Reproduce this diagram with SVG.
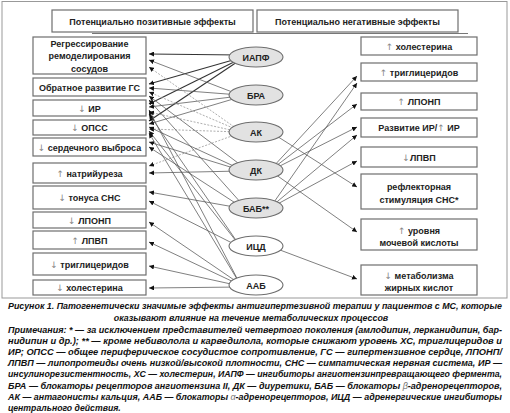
<svg xmlns="http://www.w3.org/2000/svg" width="510" height="413" viewBox="0 0 510 413">
<style>
.bx{fill:#fff;stroke:#6e6e6e;stroke-width:1.2}
.t{font-family:"Liberation Sans",Arial,sans-serif;font-weight:bold;font-size:9px;fill:#222;text-anchor:middle}
.ar{font-family:"DejaVu Sans",sans-serif;font-weight:normal;fill:#888}
.el{stroke:#6e6e6e;stroke-width:1.1}
.g{fill:#e2e2e2}
.w{fill:#fff}
.s{fill:none;stroke:#555;stroke-width:0.75}
.d{fill:none;stroke:#333;stroke-width:1.1}
.o{fill:none;stroke:#999;stroke-width:0.8;stroke-dasharray:2,1.5}
.cap{font-family:"Liberation Sans",Arial,sans-serif;font-weight:bold;font-style:italic;font-size:8.9px;fill:#111}
.nt{font-family:"Liberation Sans",Arial,sans-serif;font-weight:bold;font-style:italic;font-size:8.7px;fill:#111}
</style>
<defs>
<marker id="ah" markerUnits="userSpaceOnUse" markerWidth="6" markerHeight="5" refX="5" refY="2.5" orient="auto">
<path d="M0,0 L5,2.5 L0,5 z" fill="#111"/>
</marker>
</defs>
<rect x="2" y="1.5" width="505" height="296.5" fill="#fff" stroke="#999" stroke-width="1"/>
<g id="hdr-pos"><rect class="bx" x="52" y="10" width="201" height="22"/><text class="t" x="152.5" y="24.5" font-size="9.5">Потенциально позитивные эффекты</text></g>
<g id="hdr-neg"><rect class="bx" x="257" y="10" width="201" height="22"/><text class="t" x="357.5" y="24.5" font-size="9.5">Потенциально негативные эффекты</text></g>
<line x1="92" y1="33.5" x2="468" y2="33.5" stroke="#777" stroke-width="1"/>
<g id="connectors">
<line class="d" x1="240" y1="55" x2="149" y2="54" marker-end="url(#ah)"/>
<line class="d" x1="240" y1="58" x2="149" y2="84" marker-end="url(#ah)"/>
<line class="d" x1="240" y1="59" x2="149" y2="104" marker-end="url(#ah)"/>
<line class="d" x1="240" y1="60" x2="149" y2="121" marker-end="url(#ah)"/>
<line class="s" x1="240" y1="95" x2="149" y2="60" marker-end="url(#ah)"/>
<line class="s" x1="240" y1="95" x2="149" y2="88" marker-end="url(#ah)"/>
<line class="s" x1="240" y1="96" x2="149" y2="107" marker-end="url(#ah)"/>
<line class="s" x1="240" y1="97" x2="149" y2="124" marker-end="url(#ah)"/>
<line class="o" x1="240" y1="131" x2="149" y2="67" marker-end="url(#ah)"/>
<line class="o" x1="240" y1="131" x2="149" y2="92" marker-end="url(#ah)"/>
<line class="o" x1="240" y1="132" x2="149" y2="112" marker-end="url(#ah)"/>
<line class="o" x1="240" y1="132" x2="149" y2="129" marker-end="url(#ah)"/>
<line class="o" x1="240" y1="133" x2="149" y2="166" marker-end="url(#ah)"/>
<line class="s" x1="242" y1="166" x2="149" y2="96" marker-end="url(#ah)"/>
<line class="s" x1="240" y1="169" x2="149" y2="127" marker-end="url(#ah)"/>
<line class="s" x1="240" y1="170" x2="149" y2="142" marker-end="url(#ah)"/>
<line class="s" x1="240" y1="171" x2="149" y2="173" marker-end="url(#ah)"/>
<line class="s" x1="242" y1="204" x2="149" y2="100" marker-end="url(#ah)"/>
<line class="s" x1="240" y1="206" x2="149" y2="147" marker-end="url(#ah)"/>
<line class="s" x1="240" y1="208" x2="149" y2="192" marker-end="url(#ah)"/>
<line class="s" x1="240" y1="246" x2="149" y2="114" marker-end="url(#ah)"/>
<line class="s" x1="240" y1="246" x2="149" y2="131" marker-end="url(#ah)"/>
<line class="s" x1="240" y1="247" x2="149" y2="201" marker-end="url(#ah)"/>
<line class="s" x1="240" y1="284" x2="149" y2="110" marker-end="url(#ah)"/>
<line class="s" x1="240" y1="284" x2="149" y2="133" marker-end="url(#ah)"/>
<line class="s" x1="240" y1="284" x2="149" y2="222" marker-end="url(#ah)"/>
<line class="s" x1="240" y1="285" x2="149" y2="242" marker-end="url(#ah)"/>
<line class="s" x1="240" y1="286" x2="149" y2="266" marker-end="url(#ah)"/>
<line class="s" x1="240" y1="287" x2="149" y2="288" marker-end="url(#ah)"/>
<line class="s" x1="272" y1="168" x2="357" y2="76" marker-end="url(#ah)"/>
<line class="s" x1="272" y1="205" x2="357" y2="83" marker-end="url(#ah)"/>
<line class="s" x1="272" y1="169" x2="357" y2="104" marker-end="url(#ah)"/>
<line class="s" x1="272" y1="170" x2="357" y2="127" marker-end="url(#ah)"/>
<line class="s" x1="272" y1="206" x2="357" y2="135" marker-end="url(#ah)"/>
<line class="s" x1="272" y1="207" x2="357" y2="161" marker-end="url(#ah)"/>
<line class="s" x1="272" y1="133" x2="357" y2="187" marker-end="url(#ah)"/>
<line class="s" x1="272" y1="172" x2="357" y2="232" marker-end="url(#ah)"/>
<line class="s" x1="272" y1="247" x2="357" y2="279" marker-end="url(#ah)"/>
</g>
<g id="n-iapf"><ellipse class="el g" cx="256" cy="57" rx="27" ry="10"/><text class="t" x="256" y="60.5">ИАПФ</text></g>
<g id="n-bra"><ellipse class="el g" cx="256" cy="95" rx="27" ry="10"/><text class="t" x="256" y="98.5">БРА</text></g>
<g id="n-ak"><ellipse class="el g" cx="256" cy="132" rx="27" ry="10"/><text class="t" x="256" y="135.5">АК</text></g>
<g id="n-dk"><ellipse class="el g" cx="256" cy="170" rx="27" ry="10"/><text class="t" x="256" y="173.5">ДК</text></g>
<g id="n-bab"><ellipse class="el g" cx="256" cy="208" rx="27" ry="10"/><text class="t" x="256" y="211.5">БАБ**</text></g>
<g id="n-icd"><ellipse class="el w" cx="256" cy="246" rx="27" ry="10"/><text class="t" x="256" y="249.5">ИЦД</text></g>
<g id="n-aab"><ellipse class="el w" cx="256" cy="285" rx="27" ry="10"/><text class="t" x="256" y="288.5">ААБ</text></g>
<g id="l1"><rect class="bx" x="33" y="37" width="113" height="37"/><text class="t" x="89.5" y="46.5">Регрессирование</text><text class="t" x="89.5" y="59">ремоделирования</text><text class="t" x="89.5" y="71.5">сосудов</text></g>
<g id="l2"><rect class="bx" x="33" y="78" width="113" height="18"/><text class="t" x="89.5" y="90.5">Обратное развитие ГС</text></g>
<g id="l3"><rect class="bx" x="33" y="100" width="113" height="16"/><text class="t" x="89.5" y="111.5"><tspan class="ar">↓</tspan> ИР</text></g>
<g id="l4"><rect class="bx" x="33" y="120" width="113" height="15"/><text class="t" x="89.5" y="131"><tspan class="ar">↓</tspan> ОПСС</text></g>
<g id="l5"><rect class="bx" x="33" y="138" width="113" height="18"/><text class="t" x="89.5" y="150.5"><tspan class="ar">↓</tspan> сердечного выброса</text></g>
<g id="l6"><rect class="bx" x="33" y="163" width="113" height="20"/><text class="t" x="89.5" y="176.5"><tspan class="ar">↑</tspan> натрийуреза</text></g>
<g id="l7"><rect class="bx" x="33" y="186" width="113" height="23"/><text class="t" x="89.5" y="201"><tspan class="ar">↓</tspan> тонуса СНС</text></g>
<g id="l8"><rect class="bx" x="33" y="212" width="113" height="16"/><text class="t" x="89.5" y="223.5"><tspan class="ar">↓</tspan> ЛПОНП</text></g>
<g id="l9"><rect class="bx" x="33" y="231" width="113" height="18"/><text class="t" x="89.5" y="243.5"><tspan class="ar">↑</tspan> ЛПВП</text></g>
<g id="l10"><rect class="bx" x="33" y="253" width="113" height="22"/><text class="t" x="89.5" y="267.5"><tspan class="ar">↓</tspan> триглицеридов</text></g>
<g id="l11"><rect class="bx" x="33" y="280" width="113" height="15"/><text class="t" x="89.5" y="291"><tspan class="ar">↓</tspan> холестерина</text></g>
<g id="r1"><rect class="bx" x="361" y="37" width="116" height="18"/><text class="t" x="419" y="49.5"><tspan class="ar">↑</tspan> холестерина</text></g>
<g id="r2"><rect class="bx" x="361" y="63" width="116" height="18"/><text class="t" x="419" y="75.5"><tspan class="ar">↑</tspan> триглицеридов</text></g>
<g id="r3"><rect class="bx" x="361" y="93" width="116" height="17"/><text class="t" x="419" y="105"><tspan class="ar">↑</tspan> ЛПОНП</text></g>
<g id="r4"><rect class="bx" x="361" y="118" width="116" height="19"/><text class="t" x="419" y="131">Развитие ИР/<tspan class="ar">↑</tspan> ИР</text></g>
<g id="r5"><rect class="bx" x="361" y="147" width="116" height="20"/><text class="t" x="419" y="160.5"><tspan class="ar">↓</tspan>ЛПВП</text></g>
<g id="r6"><rect class="bx" x="361" y="174" width="116" height="35"/><text class="t" x="419" y="189.5">рефлекторная</text><text class="t" x="419" y="202.5">стимуляция СНС*</text></g>
<g id="r7"><rect class="bx" x="361" y="219" width="116" height="31"/><text class="t" x="419" y="233.5"><tspan class="ar">↑</tspan> уровня</text><text class="t" x="419" y="246">мочевой кислоты</text></g>
<g id="r8"><rect class="bx" x="361" y="265" width="116" height="30"/><text class="t" x="419" y="278.5"><tspan class="ar">↓</tspan> метаболизма</text><text class="t" x="419" y="291">жирных кислот</text></g>
<text class="cap" x="8" y="308.5" textLength="494" lengthAdjust="spacingAndGlyphs">Рисунок 1. Патогенетически значимые эффекты антигипертезивной терапии у пациентов с МС, которые</text>
<text class="cap" x="251" y="320.5" text-anchor="middle" font-size="9.2">оказывают влияние на течение метаболических процессов</text>
<text class="nt" x="8" y="332.5" textLength="494" lengthAdjust="spacingAndGlyphs">Примечания: * — за исключением представителей четвертого поколения (амлодипин, лерканидипин, бар-</text>
<text class="nt" x="8" y="343.7" textLength="494" lengthAdjust="spacingAndGlyphs">нидипин и др.); ** — кроме небиволола и карведилола, которые снижают уровень ХС, триглицеридов и</text>
<text class="nt" x="8" y="354.9" textLength="494" lengthAdjust="spacingAndGlyphs">ИР; ОПСС — общее периферическое сосудистое сопротивление, ГС — гипертензивное сердце, ЛПОНП/</text>
<text class="nt" x="8" y="366.1" textLength="494" lengthAdjust="spacingAndGlyphs">ЛПВП — липопротеиды очень низкой/высокой плотности, СНС — симпатическая нервная система, ИР —</text>
<text class="nt" x="8" y="377.3" textLength="494" lengthAdjust="spacingAndGlyphs">инсулинорезистентность, ХС — холестерин, ИАПФ — ингибиторы ангиотензинпревращающего фермента,</text>
<text class="nt" x="8" y="388.5" textLength="494" lengthAdjust="spacingAndGlyphs">БРА — блокаторы рецепторов ангиотензина II, ДК — диуретики, БАБ — блокаторы <tspan font-weight="normal" fill="#777">β</tspan>-адренорецепторов,</text>
<text class="nt" x="8" y="399.7" textLength="494" lengthAdjust="spacingAndGlyphs">АК — антагонисты кальция, ААБ — блокаторы <tspan font-weight="normal" fill="#777">α</tspan>-адренорецепторов, ИЦД — адренергические ингибиторы</text>
<text class="nt" x="8" y="410.9">центрального действия.</text>
</svg>
